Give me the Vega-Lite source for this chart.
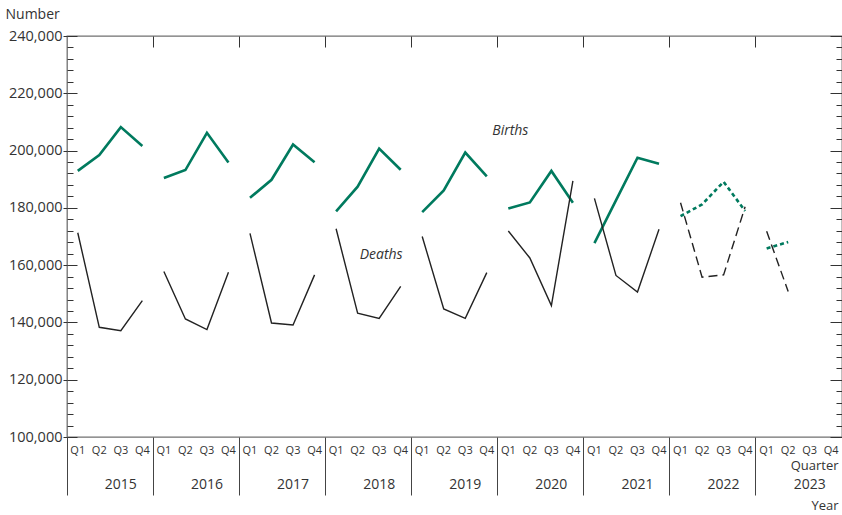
{
  "$schema": "https://vega.github.io/schema/vega-lite/v6.json",
  "width": 775,
  "height": 401,
  "autosize": "none",
  "padding": {"left": 67, "top": 36, "right": 0, "bottom": 78},
  "background": "white",
  "config": {
    "font": "Open Sans",
    "view": {"stroke": "#707070", "strokeWidth": 1.3},
    "axis": {"grid": false, "labelColor": "#333", "titleColor": "#333", "tickColor": "#333", "labelOverlap": false, "labelBound": false, "labelFlush": false, "titleFontWeight": "normal"}
  },
  "datasets": {
    "d": [
      {"year": 2015, "period": "2015 Q1", "series": "Births", "status": "final", "value": 192900},
      {"year": 2015, "period": "2015 Q2", "series": "Births", "status": "final", "value": 198400},
      {"year": 2015, "period": "2015 Q3", "series": "Births", "status": "final", "value": 208200},
      {"year": 2015, "period": "2015 Q4", "series": "Births", "status": "final", "value": 201600},
      {"year": 2016, "period": "2016 Q1", "series": "Births", "status": "final", "value": 190400},
      {"year": 2016, "period": "2016 Q2", "series": "Births", "status": "final", "value": 193200},
      {"year": 2016, "period": "2016 Q3", "series": "Births", "status": "final", "value": 206200},
      {"year": 2016, "period": "2016 Q4", "series": "Births", "status": "final", "value": 195800},
      {"year": 2017, "period": "2017 Q1", "series": "Births", "status": "final", "value": 183500},
      {"year": 2017, "period": "2017 Q2", "series": "Births", "status": "final", "value": 189800},
      {"year": 2017, "period": "2017 Q3", "series": "Births", "status": "final", "value": 202100},
      {"year": 2017, "period": "2017 Q4", "series": "Births", "status": "final", "value": 195900},
      {"year": 2018, "period": "2018 Q1", "series": "Births", "status": "final", "value": 178800},
      {"year": 2018, "period": "2018 Q2", "series": "Births", "status": "final", "value": 187400},
      {"year": 2018, "period": "2018 Q3", "series": "Births", "status": "final", "value": 200700},
      {"year": 2018, "period": "2018 Q4", "series": "Births", "status": "final", "value": 193300},
      {"year": 2019, "period": "2019 Q1", "series": "Births", "status": "final", "value": 178500},
      {"year": 2019, "period": "2019 Q2", "series": "Births", "status": "final", "value": 186100},
      {"year": 2019, "period": "2019 Q3", "series": "Births", "status": "final", "value": 199300},
      {"year": 2019, "period": "2019 Q4", "series": "Births", "status": "final", "value": 191000},
      {"year": 2020, "period": "2020 Q1", "series": "Births", "status": "final", "value": 179800},
      {"year": 2020, "period": "2020 Q2", "series": "Births", "status": "final", "value": 181900},
      {"year": 2020, "period": "2020 Q3", "series": "Births", "status": "final", "value": 192900},
      {"year": 2020, "period": "2020 Q4", "series": "Births", "status": "final", "value": 181800},
      {"year": 2021, "period": "2021 Q1", "series": "Births", "status": "final", "value": 167700},
      {"year": 2021, "period": "2021 Q2", "series": "Births", "status": "final", "value": 182600},
      {"year": 2021, "period": "2021 Q3", "series": "Births", "status": "final", "value": 197500},
      {"year": 2021, "period": "2021 Q4", "series": "Births", "status": "final", "value": 195400},
      {"year": 2022, "period": "2022 Q1", "series": "Births", "status": "provisional", "value": 177100},
      {"year": 2022, "period": "2022 Q2", "series": "Births", "status": "provisional", "value": 181200},
      {"year": 2022, "period": "2022 Q3", "series": "Births", "status": "provisional", "value": 189100},
      {"year": 2022, "period": "2022 Q4", "series": "Births", "status": "provisional", "value": 178900},
      {"year": 2023, "period": "2023 Q1", "series": "Births", "status": "provisional", "value": 165800},
      {"year": 2023, "period": "2023 Q2", "series": "Births", "status": "provisional", "value": 168100},
      {"year": 2015, "period": "2015 Q1", "series": "Deaths", "status": "final", "value": 171300},
      {"year": 2015, "period": "2015 Q2", "series": "Deaths", "status": "final", "value": 138300},
      {"year": 2015, "period": "2015 Q3", "series": "Deaths", "status": "final", "value": 137100},
      {"year": 2015, "period": "2015 Q4", "series": "Deaths", "status": "final", "value": 147600},
      {"year": 2016, "period": "2016 Q1", "series": "Deaths", "status": "final", "value": 157800},
      {"year": 2016, "period": "2016 Q2", "series": "Deaths", "status": "final", "value": 141200},
      {"year": 2016, "period": "2016 Q3", "series": "Deaths", "status": "final", "value": 137500},
      {"year": 2016, "period": "2016 Q4", "series": "Deaths", "status": "final", "value": 157500},
      {"year": 2017, "period": "2017 Q1", "series": "Deaths", "status": "final", "value": 171100},
      {"year": 2017, "period": "2017 Q2", "series": "Deaths", "status": "final", "value": 139800},
      {"year": 2017, "period": "2017 Q3", "series": "Deaths", "status": "final", "value": 139100},
      {"year": 2017, "period": "2017 Q4", "series": "Deaths", "status": "final", "value": 156600},
      {"year": 2018, "period": "2018 Q1", "series": "Deaths", "status": "final", "value": 172700},
      {"year": 2018, "period": "2018 Q2", "series": "Deaths", "status": "final", "value": 143200},
      {"year": 2018, "period": "2018 Q3", "series": "Deaths", "status": "final", "value": 141400},
      {"year": 2018, "period": "2018 Q4", "series": "Deaths", "status": "final", "value": 152600},
      {"year": 2019, "period": "2019 Q1", "series": "Deaths", "status": "final", "value": 170000},
      {"year": 2019, "period": "2019 Q2", "series": "Deaths", "status": "final", "value": 144700},
      {"year": 2019, "period": "2019 Q3", "series": "Deaths", "status": "final", "value": 141400},
      {"year": 2019, "period": "2019 Q4", "series": "Deaths", "status": "final", "value": 157400},
      {"year": 2020, "period": "2020 Q1", "series": "Deaths", "status": "final", "value": 171900},
      {"year": 2020, "period": "2020 Q2", "series": "Deaths", "status": "final", "value": 162500},
      {"year": 2020, "period": "2020 Q3", "series": "Deaths", "status": "final", "value": 145900},
      {"year": 2020, "period": "2020 Q4", "series": "Deaths", "status": "final", "value": 189400},
      {"year": 2021, "period": "2021 Q1", "series": "Deaths", "status": "final", "value": 183300},
      {"year": 2021, "period": "2021 Q2", "series": "Deaths", "status": "final", "value": 156400},
      {"year": 2021, "period": "2021 Q3", "series": "Deaths", "status": "final", "value": 150600},
      {"year": 2021, "period": "2021 Q4", "series": "Deaths", "status": "final", "value": 172500},
      {"year": 2022, "period": "2022 Q1", "series": "Deaths", "status": "provisional", "value": 181800},
      {"year": 2022, "period": "2022 Q2", "series": "Deaths", "status": "provisional", "value": 155800},
      {"year": 2022, "period": "2022 Q3", "series": "Deaths", "status": "provisional", "value": 156600},
      {"year": 2022, "period": "2022 Q4", "series": "Deaths", "status": "provisional", "value": 180400},
      {"year": 2023, "period": "2023 Q1", "series": "Deaths", "status": "provisional", "value": 171800},
      {"year": 2023, "period": "2023 Q2", "series": "Deaths", "status": "provisional", "value": 150800}
    ],
    "notes": [
      {"period": "2020 Q1", "value": 207000, "label": "Births"},
      {"period": "2018 Q3", "value": 163700, "label": "Deaths"}
    ]
  },
  "resolve": {"axis": {"x": "independent", "y": "independent"}},
  "layer": [
    {
      "data": {"name": "d"},
      "transform": [{"filter": "datum.series === 'Births' && datum.status === 'final'"}],
      "mark": {"type": "line", "color": "#007a5e", "strokeWidth": 2.6},
      "encoding": {
        "x": {"field": "period", "type": "ordinal",
          "scale": {"domain": ["2015 Q1","2015 Q2","2015 Q3","2015 Q4","2016 Q1","2016 Q2","2016 Q3","2016 Q4","2017 Q1","2017 Q2","2017 Q3","2017 Q4","2018 Q1","2018 Q2","2018 Q3","2018 Q4","2019 Q1","2019 Q2","2019 Q3","2019 Q4","2020 Q1","2020 Q2","2020 Q3","2020 Q4","2021 Q1","2021 Q2","2021 Q3","2021 Q4","2022 Q1","2022 Q2","2022 Q3","2022 Q4","2023 Q1","2023 Q2","2023 Q3","2023 Q4"], "type": "band", "paddingInner": 0, "paddingOuter": 0},
          "axis": {"orient": "bottom", "ticks": false, "tickSize": 0, "domain": false, "labelAngle": 0, "labelExpr": "slice(datum.label, 5)", "labelFontSize": 11, "labelPadding": 7, "title": "Quarter", "titleX": 771, "titleY": 28, "titleAlign": "right", "titleBaseline": "middle", "titleFontSize": 13}},
        "y": {"field": "value", "type": "quantitative",
          "scale": {"domain": [100000, 240000], "nice": false, "zero": false},
          "axis": {"orient": "left", "values": [100000,120000,140000,160000,180000,200000,220000,240000], "format": ",d", "labelFontSize": 14.5, "labelPadding": 1, "tickSize": 4, "domain": false, "title": "Number", "titleAngle": 0, "titleX": -62, "titleY": -22, "titleAlign": "left", "titleBaseline": "middle", "titleFontSize": 14}},
        "detail": {"field": "year", "type": "nominal"}
      }
    },
    {
      "data": {"name": "d"},
      "transform": [{"filter": "datum.series === 'Births' && datum.status === 'provisional'"}],
      "mark": {"type": "line", "color": "#007a5e", "strokeWidth": 2.6, "strokeDash": [4, 3]},
      "encoding": {
        "x": {"field": "period", "type": "ordinal",
          "scale": {"domain": ["2015 Q1","2015 Q2","2015 Q3","2015 Q4","2016 Q1","2016 Q2","2016 Q3","2016 Q4","2017 Q1","2017 Q2","2017 Q3","2017 Q4","2018 Q1","2018 Q2","2018 Q3","2018 Q4","2019 Q1","2019 Q2","2019 Q3","2019 Q4","2020 Q1","2020 Q2","2020 Q3","2020 Q4","2021 Q1","2021 Q2","2021 Q3","2021 Q4","2022 Q1","2022 Q2","2022 Q3","2022 Q4","2023 Q1","2023 Q2","2023 Q3","2023 Q4"], "type": "band", "paddingInner": 0, "paddingOuter": 0},
          "axis": {"orient": "bottom", "values": ["2015 Q1","2016 Q1","2017 Q1","2018 Q1","2019 Q1","2020 Q1","2021 Q1","2022 Q1","2023 Q1"], "bandPosition": 0, "labels": false, "domain": false, "tickSize": 58, "tickColor": "#444", "title": null}},
        "y": {"field": "value", "type": "quantitative",
          "scale": {"domain": [100000, 240000], "nice": false, "zero": false},
          "axis": {"orient": "left", "values": [100000,120000,140000,160000,180000,200000,220000,240000], "labels": false, "domain": false, "tickSize": -10, "title": null}},
        "detail": {"field": "year", "type": "nominal"}
      }
    },
    {
      "data": {"name": "d"},
      "transform": [{"filter": "datum.series === 'Deaths' && datum.status === 'final'"}],
      "mark": {"type": "line", "color": "#222222", "strokeWidth": 1.4},
      "encoding": {
        "x": {"field": "period", "type": "ordinal",
          "scale": {"domain": ["2015 Q1","2015 Q2","2015 Q3","2015 Q4","2016 Q1","2016 Q2","2016 Q3","2016 Q4","2017 Q1","2017 Q2","2017 Q3","2017 Q4","2018 Q1","2018 Q2","2018 Q3","2018 Q4","2019 Q1","2019 Q2","2019 Q3","2019 Q4","2020 Q1","2020 Q2","2020 Q3","2020 Q4","2021 Q1","2021 Q2","2021 Q3","2021 Q4","2022 Q1","2022 Q2","2022 Q3","2022 Q4","2023 Q1","2023 Q2","2023 Q3","2023 Q4"], "type": "band", "paddingInner": 0, "paddingOuter": 0},
          "axis": {"orient": "bottom", "values": ["2015 Q3","2016 Q3","2017 Q3","2018 Q3","2019 Q3","2020 Q3","2021 Q3","2022 Q3","2023 Q3"], "bandPosition": 0, "ticks": false, "tickSize": 0, "domain": false, "labelAngle": 0, "labelExpr": "slice(datum.label, 0, 4)", "labelFontSize": 14, "labelPadding": 40, "title": "Year", "titleX": 771, "titleY": 68, "titleAlign": "right", "titleBaseline": "middle", "titleFontSize": 13}},
        "y": {"field": "value", "type": "quantitative",
          "scale": {"domain": [100000, 240000], "nice": false, "zero": false},
          "axis": {"orient": "left", "values": [104000,108000,112000,116000,124000,128000,132000,136000,144000,148000,152000,156000,164000,168000,172000,176000,184000,188000,192000,196000,204000,208000,212000,216000,224000,228000,232000,236000], "labels": false, "domain": false, "tickSize": -6, "title": null}},
        "detail": {"field": "year", "type": "nominal"}
      }
    },
    {
      "data": {"name": "d"},
      "transform": [{"filter": "datum.series === 'Deaths' && datum.status === 'provisional'"}],
      "mark": {"type": "line", "color": "#222222", "strokeWidth": 1.4, "strokeDash": [9, 5]},
      "encoding": {
        "x": {"field": "period", "type": "ordinal",
          "scale": {"domain": ["2015 Q1","2015 Q2","2015 Q3","2015 Q4","2016 Q1","2016 Q2","2016 Q3","2016 Q4","2017 Q1","2017 Q2","2017 Q3","2017 Q4","2018 Q1","2018 Q2","2018 Q3","2018 Q4","2019 Q1","2019 Q2","2019 Q3","2019 Q4","2020 Q1","2020 Q2","2020 Q3","2020 Q4","2021 Q1","2021 Q2","2021 Q3","2021 Q4","2022 Q1","2022 Q2","2022 Q3","2022 Q4","2023 Q1","2023 Q2","2023 Q3","2023 Q4"], "type": "band", "paddingInner": 0, "paddingOuter": 0},
          "axis": {"orient": "top", "values": ["2016 Q1","2017 Q1","2018 Q1","2019 Q1","2020 Q1","2021 Q1","2022 Q1","2023 Q1"], "bandPosition": 0, "labels": false, "domain": false, "tickSize": -11, "title": null}},
        "y": {"field": "value", "type": "quantitative",
          "scale": {"domain": [100000, 240000], "nice": false, "zero": false},
          "axis": {"orient": "right", "values": [100000,120000,140000,160000,180000,200000,220000,240000], "labels": false, "domain": false, "tickSize": -12, "title": null}},
        "detail": {"field": "year", "type": "nominal"}
      }
    },
    {
      "data": {"name": "notes"},
      "mark": {"type": "text", "fontStyle": "italic", "fontSize": 14, "color": "#333", "align": "center", "baseline": "middle", "dx": 2},
      "encoding": {
        "x": {"field": "period", "type": "ordinal",
          "scale": {"domain": ["2015 Q1","2015 Q2","2015 Q3","2015 Q4","2016 Q1","2016 Q2","2016 Q3","2016 Q4","2017 Q1","2017 Q2","2017 Q3","2017 Q4","2018 Q1","2018 Q2","2018 Q3","2018 Q4","2019 Q1","2019 Q2","2019 Q3","2019 Q4","2020 Q1","2020 Q2","2020 Q3","2020 Q4","2021 Q1","2021 Q2","2021 Q3","2021 Q4","2022 Q1","2022 Q2","2022 Q3","2022 Q4","2023 Q1","2023 Q2","2023 Q3","2023 Q4"], "type": "band", "paddingInner": 0, "paddingOuter": 0},
          "axis": null},
        "y": {"field": "value", "type": "quantitative",
          "scale": {"domain": [100000, 240000], "nice": false, "zero": false},
          "axis": {"orient": "right", "values": [104000,108000,112000,116000,124000,128000,132000,136000,144000,148000,152000,156000,164000,168000,172000,176000,184000,188000,192000,196000,204000,208000,212000,216000,224000,228000,232000,236000], "labels": false, "domain": false, "tickSize": -6, "title": null}},
        "text": {"field": "label", "type": "nominal"}
      }
    }
  ]
}
